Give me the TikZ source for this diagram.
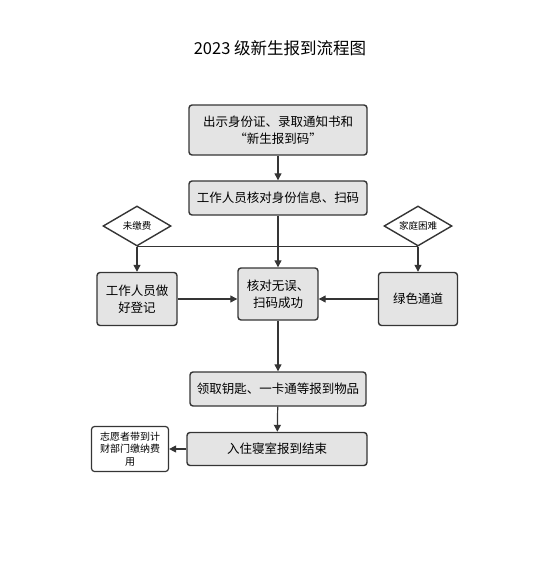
\documentclass[tikz,border=0pt]{standalone}
\usepackage{fontspec}
\setmainfont{Noto Sans CJK SC}
\usetikzlibrary{shapes.geometric,arrows.meta}
\definecolor{boxfill}{HTML}{E4E4E4}
\definecolor{edge}{HTML}{353535}
\begin{document}
\begin{tikzpicture}[x=1pt,y=-1pt,
  stepbox/.style={draw=edge,line width=1.4pt,fill=boxfill,rounded corners=3pt,
    align=center,inner sep=0pt,font=\fontsize{12.5}{17}\selectfont},
  notebox/.style={draw=edge,line width=1.2pt,fill=white,rounded corners=3pt,
    align=center,inner sep=0pt,font=\fontsize{10}{12.5}\selectfont},
  cond/.style={diamond,aspect=1.7,draw=edge,line width=1.4pt,fill=white,inner sep=0pt,
    minimum width=68pt,minimum height=40pt,font=\fontsize{9.5}{12}\selectfont},
  link/.style={draw=edge,line width=1.2pt,-{Triangle[length=7pt,width=7pt]}}]
\useasboundingbox (0,0) rectangle (549,563);
\node (title) at (280,48) {\fontsize{16.5}{20}\selectfont 2023 级新生报到流程图};
\node [stepbox,minimum width=178pt,minimum height=50pt] (show) at (278,130)
  {出示身份证、录取通知书和\\“新生报到码”};
\node [stepbox,minimum width=178pt,minimum height=34pt] (check) at (278,198)
  {工作人员核对身份信息、扫码};
\node [cond] (unpaid) at (137,226) {未缴费};
\node [cond] (poor) at (418,226) {家庭困难};
\node [stepbox,minimum width=80pt,minimum height=53pt] (record) at (137,299)
  {工作人员做\\好登记};
\node [stepbox,minimum width=80pt,minimum height=52pt] (ok) at (278,294)
  {核对无误、\\扫码成功};
\node [stepbox,minimum width=79pt,minimum height=53pt] (green) at (418,299)
  {绿色通道};
\node [stepbox,minimum width=176pt,minimum height=34pt] (items) at (278,389)
  {领取钥匙、一卡通等报到物品};
\node [stepbox,minimum width=180pt,minimum height=33pt] (dorm) at (277,449)
  {入住寝室报到结束};
\node [notebox,minimum width=77pt,minimum height=45pt] (pay) at (130,449)
  {志愿者带到计\\财部门缴纳费\\用};
% main line
\draw [link] (show) -- (check);
\draw [link] (check) -- (ok);
\draw [link] (ok) -- (items);
\draw [link] (items) -- (dorm);
% branches
\draw [draw=edge,line width=1.2pt] (unpaid.south) -- (unpaid.south -| poor.south);
\draw [link] (unpaid.south) -- (record);
\draw [link] (poor.south) -- (green);
\draw [link] (record.east) -- (record.east -| ok.west);
\draw [link] (green.west) -- (green.west -| ok.east);
\draw [link] (dorm) -- (pay);
\end{tikzpicture}
\end{document}
